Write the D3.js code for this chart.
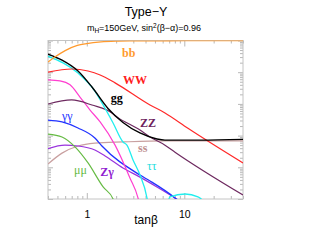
<!DOCTYPE html>
<html>
<head>
<meta charset="utf-8">
<script src="https://cdn.jsdelivr.net/npm/d3@7"></script>
<style>
  body { margin: 0; background: #fff; }
  svg { display: block; }
</style>
</head>
<body>
<div id="chart"></div>
<script>
// 分支比数据 [tanβ, BR]
const bb   = [[0.4,0.21],[0.47,0.30],[0.6,0.48],[0.8,0.70],[1.0,0.80],[1.4,0.90],[2,0.95],[3,0.97],[5,0.98],[10,0.985],[40,0.985]];
const ww   = [[0.4,0.101],[0.7,0.126],[1.03,0.109],[1.37,0.082],[1.95,0.046],[4.45,0.0092],[6.34,0.0052],[10.9,0.0017],[40,0.000137]];
const gg   = [[0.4,0.37],[0.557,0.24],[0.812,0.109],[1.13,0.034],[1.65,0.0072],[2.35,0.0026],[3.51,0.00121],[5.24,0.00078],[6.34,0.00072],[14.5,0.00072],[40,0.00076]];
const zz   = [[0.4,0.0099],[0.7,0.0133],[1.13,0.0092],[1.81,0.0052],[2.04,0.0039],[3.51,0.0015],[4.45,0.0009],[6.34,0.0005],[8.03,0.0003],[40,0.0000134]];
const cc   = [[0.4,0.057],[0.53,0.053],[0.673,0.040],[0.851,0.0165],[1.08,0.0064],[1.37,0.0027],[1.95,0.0005],[2.77,0.000046],[3.35,0.0000108],[3.6,0.000004]];
const tautau = [[0.4,0.32],[0.812,0.094],[1.21,0.0255],[1.54,0.0072],[1.86,0.0025],[2.35,0.00063],[2.58,0.0005],[2.98,0.00017],[3.51,0.000057],[4.14,0.0000108],[4.6,0.000001],[5.6,0.0000005],[7.13,0.0000116],[10.2,0.0000144],[13.8,0.0000116],[20,0.000004]];
const gamgam = [[0.4,0.0031],[0.557,0.0027],[0.812,0.00174],[1.21,0.00084],[1.43,0.00047],[3.51,0.000057],[4.45,0.000037],[8.03,0.0000108],[10,0.000006]];
const mumu = [[0.4,0.00112],[0.557,0.0009],[0.757,0.00044],[1.03,0.000137],[1.47,0.000024],[1.86,0.00001],[2.1,0.000003]];
const zgam = [[0.4,0.00039],[0.597,0.0005],[0.812,0.00047],[1.21,0.00035],[1.54,0.000227],[2.35,0.000095],[3.51,0.000049],[5.24,0.000024],[8.03,0.0000108],[10,0.000007]];
const ss   = [[0.4,0.000127],[0.557,0.00028],[0.812,0.00047],[1.21,0.00058],[2.35,0.00063],[6.34,0.00068],[40,0.00068]];

const series = [
  {name: "ss", data: ss, color: "#c9a0a0", w: 1.2},
  {name: "zgam", data: zgam, color: "#9933dd", w: 1.2},
  {name: "mumu", data: mumu, color: "#66bb44", w: 1.2},
  {name: "gamgam", data: gamgam, color: "#2233ff", w: 1.3},
  {name: "cc", data: cc, color: "#ff3fd0", w: 1.2},
  {name: "zz", data: zz, color: "#6e2a60", w: 1.2},
  {name: "tautau", data: tautau, color: "#22eeee", w: 1.3},
  {name: "ww", data: ww, color: "#ff2a2a", w: 1.2},
  {name: "gg", data: gg, color: "#000000", w: 1.4},
  {name: "bb", data: bb, color: "#ff9a2e", w: 1.3}
];

// 曲线标签（位置为数据坐标）
const labels = [
  {text: "bb", x: 2.30, y: 0.30, color: "#ff9a2e", bold: true},
  {text: "WW", x: 2.35, y: 0.0424, color: "#ff2020", bold: true},
  {text: "gg", x: 1.76, y: 0.0115, color: "#000000", bold: true},
  {text: "ZZ", x: 3.51, y: 0.00187, color: "#6e1f5e", bold: true},
  {text: "γγ", x: 0.557, y: 0.0031, color: "#2233ff", bold: false},
  {text: "ss", x: 3.35, y: 0.0003, color: "#c09090", bold: true},
  {text: "ττ", x: 4.14, y: 0.000082, color: "#22dddd", bold: false},
  {text: "Zγ", x: 1.37, y: 0.000053, color: "#9020d0", bold: true},
  {text: "μμ", x: 0.741, y: 0.000061, color: "#66bb44", bold: false}
];

const xMajor = [1, 10];
const xLabels = {1: "1", 10: "10"};

const W = 310, H = 240;
const margin = {top: 40.5, right: 67, bottom: 41, left: 48};
const width = W - margin.left - margin.right,
      height = H - margin.top - margin.bottom;

const svg = d3.select("#chart").append("svg")
  .attr("width", W).attr("height", H);

const g = svg.append("g").attr("transform", `translate(${margin.left},${margin.top})`);

const x = d3.scaleLog().domain([0.4, 40]).range([0, width]);
const y = d3.scaleLog().domain([1e-5, 1]).range([height, 0]);

// 刻度
const xMinor = [];
[0.1, 1, 10].forEach(dec => { for (let k = 1; k <= 9; k++) { const v = dec * k; if (v >= 0.4 && v <= 40 && !xMajor.includes(v)) xMinor.push(v); } });
const yMajor = [1e-5, 1e-4, 1e-3, 1e-2, 1e-1, 1];
const yMinor = [];
yMajor.slice(0, 5).forEach(dec => { for (let k = 2; k <= 9; k++) yMinor.push(dec * k); });

const tickColor = "#b8b8b8";
function styleAxis(sel) {
  sel.select(".domain").remove();
  sel.selectAll(".tick line").attr("stroke", tickColor);
  sel.selectAll(".tick text").attr("font-family", "Liberation Sans, Arial, sans-serif").attr("font-size", 10.5).attr("fill", "#000");
}

g.append("g").attr("transform", `translate(0,${height})`)
  .call(d3.axisBottom(x).tickValues(xMinor).tickSize(-3).tickFormat(""))
  .call(styleAxis);
g.append("g").attr("transform", `translate(0,${height})`)
  .call(d3.axisBottom(x).tickValues(xMajor).tickSize(-6).tickPadding(12).tickFormat(d => xLabels[d]))
  .call(styleAxis);
g.append("g")
  .call(d3.axisTop(x).tickValues(xMinor).tickSize(-3).tickFormat(""))
  .call(styleAxis);
g.append("g")
  .call(d3.axisTop(x).tickValues(xMajor).tickSize(-6).tickFormat(""))
  .call(styleAxis);
g.append("g")
  .call(d3.axisLeft(y).tickValues(yMinor).tickSize(-3).tickFormat(""))
  .call(styleAxis);
g.append("g")
  .call(d3.axisLeft(y).tickValues(yMajor).tickSize(-5).tickFormat(""))
  .call(styleAxis);
g.append("g").attr("transform", `translate(${width},0)`)
  .call(d3.axisRight(y).tickValues(yMinor).tickSize(-3).tickFormat(""))
  .call(styleAxis);
g.append("g").attr("transform", `translate(${width},0)`)
  .call(d3.axisRight(y).tickValues(yMajor).tickSize(-5).tickFormat(""))
  .call(styleAxis);

// 边框
g.append("rect").attr("width", width).attr("height", height)
  .attr("fill", "none").attr("stroke", "#c4c4c4").attr("stroke-width", 1);

g.append("clipPath").attr("id", "clip")
  .append("rect").attr("width", width).attr("height", height);

const line = d3.line()
  .x(d => x(d[0]))
  .y(d => y(d[1]))
  .curve(d3.curveMonotoneX);

g.append("g").attr("clip-path", "url(#clip)")
  .selectAll("path").data(series).join("path")
  .attr("d", d => line(d.data))
  .attr("fill", "none")
  .attr("stroke", d => d.color)
  .attr("stroke-width", d => d.w);

// 标签
g.selectAll("text.lbl").data(labels).join("text")
  .attr("class", "lbl")
  .attr("x", d => x(d.x))
  .attr("y", d => y(d.y))
  .attr("fill", d => d.color)
  .attr("font-family", "Liberation Serif, Times New Roman, serif")
  .attr("font-weight", d => d.bold ? "bold" : "normal")
  .attr("font-size", 12)
  .text(d => d.text);

// 标题
svg.append("text").attr("x", 146).attr("y", 16).attr("text-anchor", "middle")
  .attr("font-family", "Liberation Sans, Arial, sans-serif").attr("font-size", 12.5)
  .text("Type\u2212Y");

const sub = svg.append("text").attr("x", 144).attr("y", 31).attr("text-anchor", "middle")
  .attr("font-family", "Liberation Sans, Arial, sans-serif").attr("font-size", 9);
sub.append("tspan").text("m");
sub.append("tspan").attr("font-size", 6.5).attr("dy", 2).text("H");
sub.append("tspan").attr("dy", -2).text("=150GeV, sin");
sub.append("tspan").attr("font-size", 6.5).attr("dy", -3.5).text("2");
sub.append("tspan").attr("dy", 3.5).text("(β\u2212α)=0.96");

svg.append("text").attr("x", 146).attr("y", 224).attr("text-anchor", "middle")
  .attr("font-family", "Liberation Sans, Arial, sans-serif").attr("font-size", 12)
  .text("tanβ");
</script>
</body>
</html>
